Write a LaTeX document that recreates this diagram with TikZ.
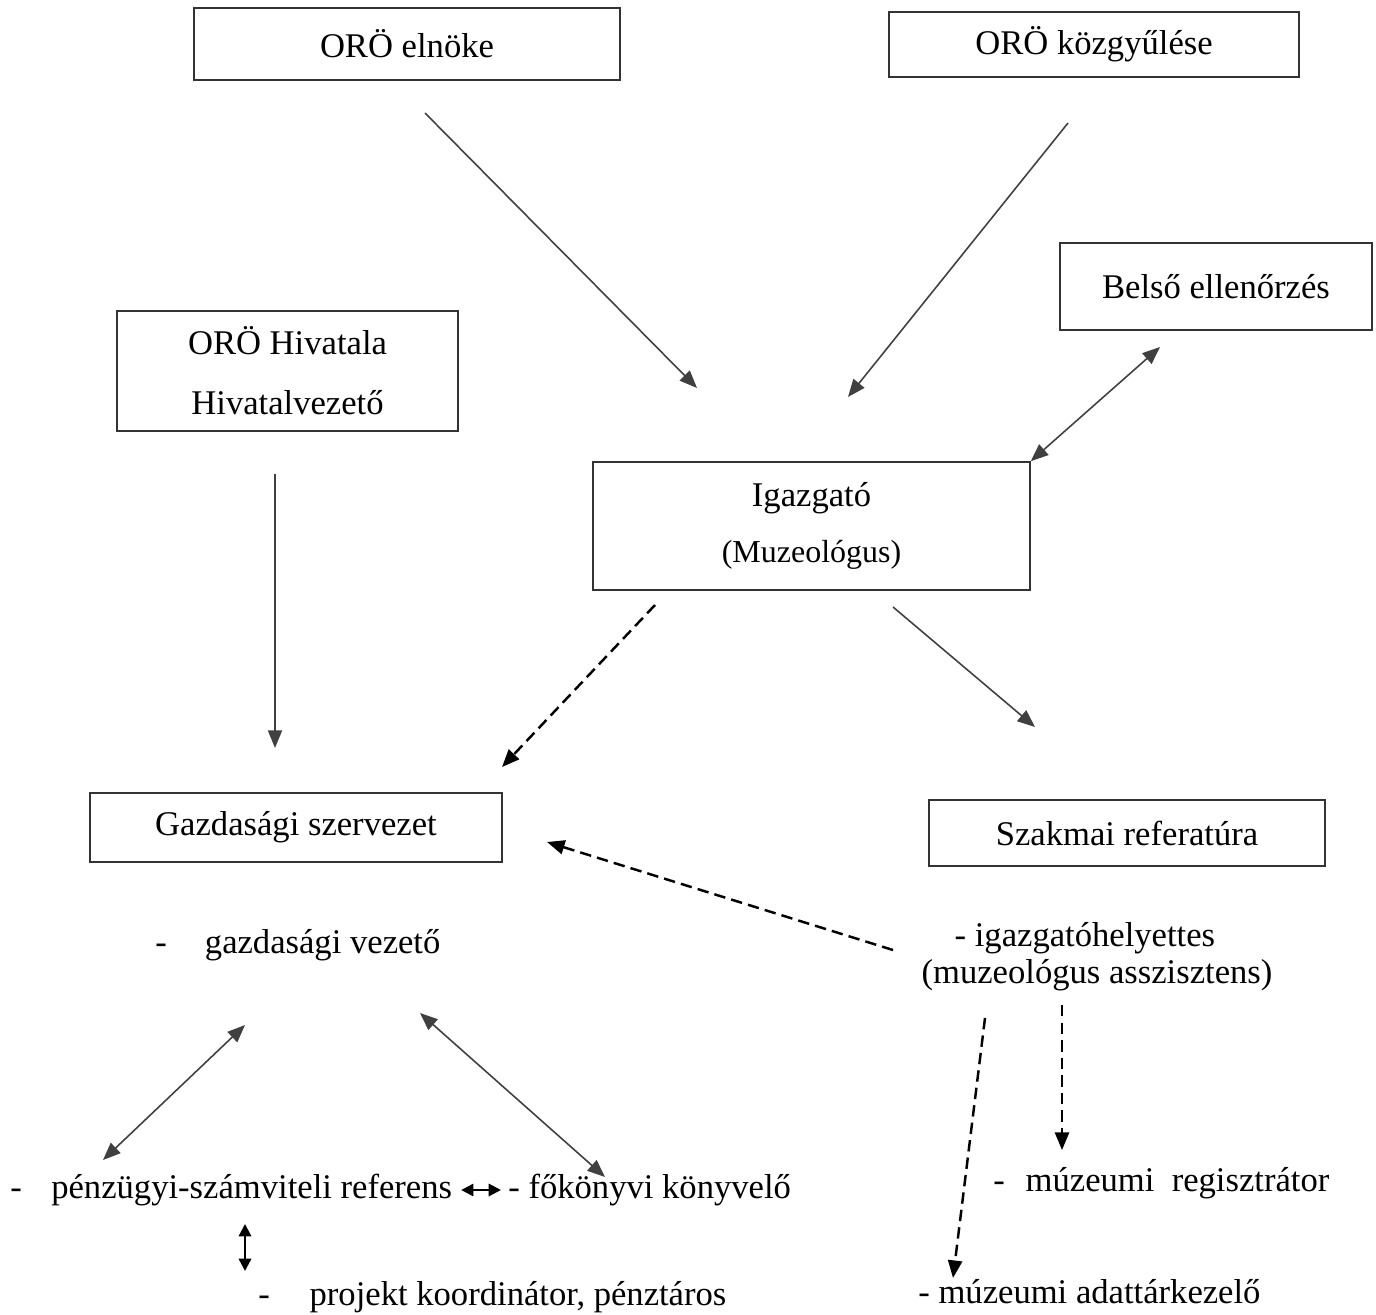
\documentclass[tikz,border=0pt]{standalone}
\usepackage{fontspec}
\setmainfont{Liberation Serif}
\usetikzlibrary{arrows.meta, positioning}

\tikzset{
	box/.style={draw=black!80, line width=0.9pt, inner sep=0pt, align=center,
		font=\fontsize{19.7}{34}\selectfont},
	lbl/.style={inner sep=0pt, anchor=west, font=\fontsize{19.7}{24}\selectfont},
	link/.style={draw=black!75, line width=0.9pt, -{Triangle[length=10pt,width=8pt]}},
	both/.style={draw=black!75, line width=0.9pt,
		{Triangle[length=10pt,width=8pt]}-{Triangle[length=10pt,width=8pt]}},
	dlink/.style={draw=black, line width=1.4pt, dash pattern=on 6.5pt off 3.5pt,
		-{Triangle[length=10pt,width=8pt]}},
	short/.style={draw=black, line width=1.3pt,
		{Triangle[length=7pt,width=7pt]}-{Triangle[length=7pt,width=7pt]}},
}

\begin{document}
\begin{tikzpicture}[x=0.02cm, y=-0.02cm]
	\useasboundingbox (0,0) rectangle (1376,1315);
	% NOTE: y axis points down, so coordinates read like pixels.

	% boxes
	\node[box, minimum width=8.52cm, minimum height=1.44cm] (elnok) at (407,44) {ORÖ elnöke};
	\node[box, minimum width=8.2cm, minimum height=1.3cm] (kozgyules) at (1094,44.5) {ORÖ közgyűlése};
	\node[box, minimum width=6.24cm, minimum height=1.74cm] (belso) at (1216,286.5) {Belső ellenőrzés};
	\node[box, minimum width=6.82cm, minimum height=2.4cm] (hivatal) at (287.5,371) {ORÖ Hivatala\\Hivatalvezető};
	\node[box, minimum width=8.74cm, minimum height=2.56cm] (igazgato) at (811.5,526)
		{Igazgató\\[-2pt]{\fontsize{18.2}{22}\selectfont(Muzeológus)}};
	\node[box, minimum width=8.24cm, minimum height=1.38cm] (gazd) at (296,827.5) {Gazdasági szervezet};
	\node[box, minimum width=7.92cm, minimum height=1.32cm] (szakmai) at (1127,833) {Szakmai referatúra};

	% staff
	\node[lbl] (gvez) at (155,945) {-\hspace{1.1em}gazdasági vezető};
	\node[inner sep=0pt, align=center, font=\fontsize{19.7}{21}\selectfont] (helyettes) at (1097,957)
		{\hspace{-0.7em}- igazgatóhelyettes\\(muzeológus asszisztens)};
	\node[lbl] (penzugyi) at (10,1190) {-\hspace{0.85em}pénzügyi-számviteli referens};
	\node[lbl] (fokonyv) at (508,1190) {- főkönyvi könyvelő};
	\node[lbl] (projekt) at (258,1297) {-\hspace{1.15em}projekt koordinátor, pénztáros};
	\node[lbl] (regisztr) at (993,1183) {-\hspace{0.6em}múzeumi\hspace{0.5em}regisztrátor};
	\node[lbl] (adattar) at (918,1292) {- múzeumi adattárkezelő};

	% free ends of the connectors
	\coordinate (elnok-out) at (425,113);
	\coordinate (igaz-in1) at (697,388);
	\coordinate (kozgy-out) at (1068,123);
	\coordinate (igaz-in2) at (848,397);
	\coordinate (belso-in) at (1160,347);
	\coordinate (hiv-out) at (275,474);
	\coordinate (gazd-in1) at (275,748);
	\coordinate (igaz-out1) at (655,605);
	\coordinate (gazd-in2) at (502,767);
	\coordinate (igaz-out2) at (893,607);
	\coordinate (szak-in) at (1035,727);
	\coordinate (hely-out) at (893,950);
	\coordinate (gazd-in3) at (547,842);
	\coordinate (gvez-a) at (245,1025);
	\coordinate (penz-a) at (103,1160);
	\coordinate (gvez-b) at (420,1013);
	\coordinate (fok-a) at (605,1177);
	\coordinate (penz-b) at (245,1224);
	\coordinate (proj-a) at (245,1271);
	\coordinate (hely-a) at (1062,1005);
	\coordinate (reg-a) at (1062,1150);
	\coordinate (hely-b) at (985,1018);
	\coordinate (adat-a) at (953,1278);

	% connectors
	\draw[link] (elnok-out) -- (igaz-in1);
	\draw[link] (kozgy-out) -- (igaz-in2);
	\draw[both] (igazgato.north east) -- (belso-in);
	\draw[link] (hiv-out) -- (gazd-in1);
	\draw[dlink] (igaz-out1) -- (gazd-in2);
	\draw[link] (igaz-out2) -- (szak-in);
	\draw[dlink] (hely-out) -- (gazd-in3);
	\draw[both] (gvez-a) -- (penz-a);
	\draw[both] (gvez-b) -- (fok-a);
	\draw[short, shorten <=5pt, shorten >=4pt] (penzugyi.east) -- (fokonyv.west);
	\draw[short] (penz-b) -- (proj-a);
	\draw[dlink] (hely-a) -- (reg-a);
	\draw[dlink] (hely-b) -- (adat-a);
\end{tikzpicture}
\end{document}
